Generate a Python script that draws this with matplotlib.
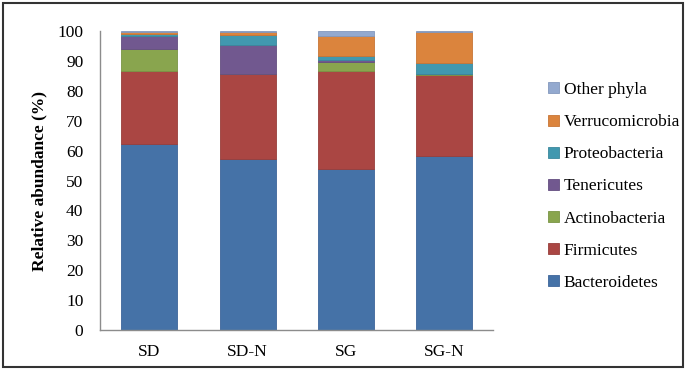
import numpy as np
import matplotlib
matplotlib.use("Agg")
import matplotlib.pyplot as plt
from matplotlib.patches import Rectangle, Patch

plt.rcParams['font.family'] = ['Liberation Serif', 'DejaVu Serif']

groups = ["SD", "SD-N", "SG", "SG-N"]
phyla = ["Bacteroidetes", "Firmicutes", "Actinobacteria", "Tenericutes",
         "Proteobacteria", "Verrucomicrobia", "Other phyla"]

bacteroidetes   = [62.3, 57.2, 53.8, 58.2]
firmicutes      = [24.4, 28.4, 32.9, 27.1]
actinobacteria  = [7.2, 0.2, 3.0, 0.3]
tenericutes     = [4.4, 9.5, 0.7, 0.2]
proteobacteria  = [0.8, 3.3, 1.2, 3.6]
verrucomicrobia = [0.5, 1.2, 6.7, 10.3]
other_phyla     = [0.4, 0.2, 1.7, 0.3]

series = [bacteroidetes, firmicutes, actinobacteria, tenericutes,
          proteobacteria, verrucomicrobia, other_phyla]
colors = ["#4572A7", "#AA4643", "#89A54E", "#71588F", "#4198AF", "#DB843D", "#93A9CF"]
edges = ["#3D659A", "#983E3B", "#7A9545", "#644E80", "#3A889C", "#C87535", "#8398BD"]

fig = plt.figure(figsize=(6.86, 3.70), dpi=100)
ax = fig.add_axes([0.146, 0.108, 0.573, 0.808])

x = np.arange(len(groups))
bottom = np.zeros(len(groups))
for name, vals, c, ec in zip(phyla, series, colors, edges):
    ax.bar(x, vals, width=0.57, bottom=bottom, color=c, edgecolor=ec, linewidth=0.6, label=name)
    bottom += np.array(vals)

ax.set_xlim(-0.5, len(groups) - 0.5)
ax.set_ylim(0, 100)
ax.set_yticks(np.arange(0, 101, 10))
ax.set_xticks(x)
ax.set_xticklabels(groups)
ax.tick_params(axis='both', length=0, labelsize=12.5, colors='black')
ax.tick_params(axis='y', pad=12)
ax.tick_params(axis='x', pad=10)
for s in ['top', 'right']:
    ax.spines[s].set_visible(False)
for s in ['left', 'bottom']:
    ax.spines[s].set_color('#8C8C8C')
    ax.spines[s].set_linewidth(1.0)
ax.set_ylabel('Relative abundance (%)', fontsize=12.5, fontweight='bold', labelpad=7)

handles = [Patch(facecolor=c, edgecolor=ec, linewidth=0.6) for c, ec in zip(colors, edges)]
leg = fig.legend(handles[::-1], phyla[::-1], loc='upper left', bbox_to_anchor=(0.789, 0.797),
                 frameon=False, fontsize=12.5, handlelength=0.6, handleheight=0.6,
                 handletextpad=0.3, labelspacing=0.93, borderaxespad=0)

fig.patches.append(Rectangle((0.004, 0.008), 0.992, 0.984, transform=fig.transFigure,
                             fill=False, edgecolor='#333333', linewidth=1.5))

fig.savefig("out.png", dpi=100)
